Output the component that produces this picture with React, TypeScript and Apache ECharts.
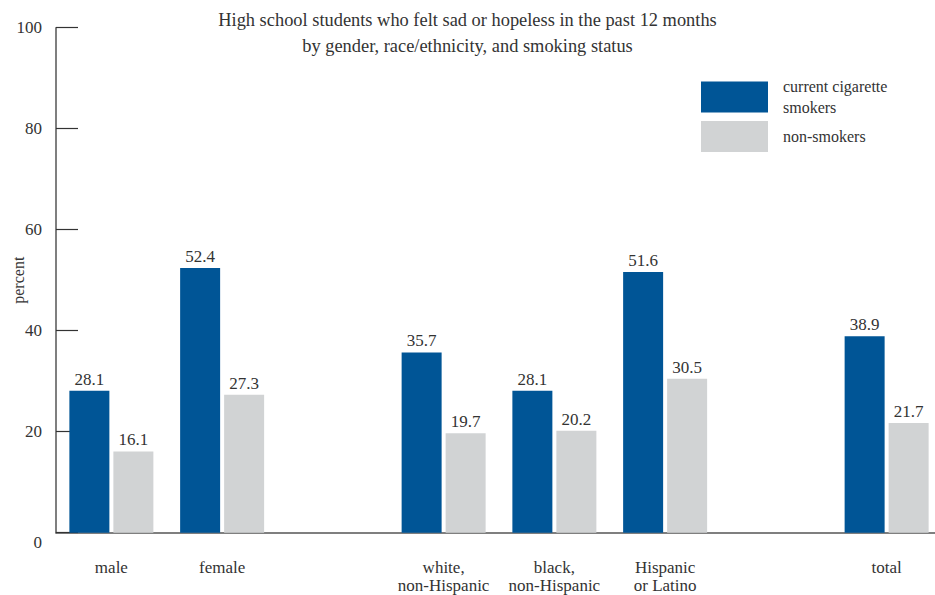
import React, { useEffect, useRef } from "react";
import * as echarts from "echarts";

const categories = [
  "male",
  "female",
  "",
  "white,\nnon-Hispanic",
  "black,\nnon-Hispanic",
  "Hispanic\nor Latino",
  "",
  "total",
];
const smokers = [28.1, 52.4, null, 35.7, 28.1, 51.6, null, 38.9];
const nonSmokers = [16.1, 27.3, null, 19.7, 20.2, 30.5, null, 21.7];
const yTicks = [0, 20, 40, 60, 80, 100];

const FONT = "Liberation Serif";
const TEXT = "#333333";
const BLUE = "#005596";
const GREY = "#d1d3d4";

export default function App() {
  const ref = useRef<HTMLDivElement>(null);
  useEffect(() => {
    if (!ref.current) return;
    const chart = echarts.init(ref.current, undefined, { renderer: "svg" });
    const labelStyle = {
      show: true,
      position: "top" as const,
      distance: 3,
      color: TEXT,
      fontFamily: FONT,
      fontSize: 17,
    };
    chart.setOption({
      animation: false,
      backgroundColor: "#ffffff",
      textStyle: { fontFamily: FONT, color: TEXT },
      title: {
        text: "High school students who felt sad or hopeless in the past 12 months\nby gender, race/ethnicity, and smoking status",
        left: "center",
        top: 7,
        padding: 0,
        textStyle: {
          fontFamily: FONT,
          fontSize: 18.4,
          fontWeight: "normal",
          color: TEXT,
          lineHeight: 26,
        },
      },
      legend: [
        {
          data: ["current cigarette smokers"],
          left: 701,
          top: 76,
          padding: 0,
          itemWidth: 67,
          itemHeight: 31,
          icon: "rect",
          selectedMode: false,
          formatter: () => "current cigarette\nsmokers",
          textStyle: {
            fontFamily: FONT,
            fontSize: 16,
            color: TEXT,
            lineHeight: 21,
            padding: [0, 0, 0, 10],
          },
        },
        {
          data: ["non-smokers"],
          left: 701,
          top: 121,
          padding: 0,
          itemWidth: 67,
          itemHeight: 31,
          icon: "rect",
          selectedMode: false,
          textStyle: {
            fontFamily: FONT,
            fontSize: 16,
            color: TEXT,
            padding: [0, 0, 0, 10],
          },
        },
      ],
      grid: {
        left: 56,
        right: -7,
        top: 27.7,
        bottom: 62.3,
        containLabel: false,
        outerBoundsMode: "none",
      },
      xAxis: {
        type: "category",
        data: categories,
        axisTick: { show: false },
        axisLine: { show: true, lineStyle: { color: "#555555", width: 1.5 } },
        axisLabel: {
          interval: 0,
          margin: 26,
          color: TEXT,
          fontFamily: FONT,
          fontSize: 17,
          lineHeight: 18,
          verticalAlign: "top",
        },
      },
      yAxis: {
        type: "value",
        min: yTicks[0],
        max: yTicks[yTicks.length - 1],
        interval: 20,
        name: "percent",
        nameLocation: "middle",
        nameRotate: 90,
        nameGap: 30,
        nameMoveOverlap: false,
        nameTextStyle: { fontFamily: FONT, fontSize: 16, color: TEXT },
        splitLine: { show: false },
        axisLine: { show: true, lineStyle: { color: "#555555", width: 1.5 } },
        axisTick: {
          show: true,
          inside: true,
          length: 22,
          lineStyle: { color: "#333333", width: 1.2 },
        },
        axisLabel: {
          margin: 14,
          color: TEXT,
          fontFamily: FONT,
          fontSize: 17,
          formatter: (v: number) => (v === 0 ? "{z|0}" : String(v)),
          rich: {
            z: {
              fontFamily: FONT,
              fontSize: 17,
              color: TEXT,
              padding: [20, 0, 0, 0],
            },
          },
        },
      },
      series: [
        {
          name: "current cigarette smokers",
          type: "bar",
          data: smokers,
          barWidth: 40,
          barGap: "10%",
          itemStyle: { color: BLUE },
          label: labelStyle,
        },
        {
          name: "non-smokers",
          type: "bar",
          data: nonSmokers,
          barWidth: 40,
          barGap: "10%",
          itemStyle: { color: GREY },
          label: labelStyle,
        },
      ],
    });
    return () => chart.dispose();
  }, []);
  return (
    <div
      ref={ref}
      style={{ position: "absolute", left: 0, top: 0, width: 935, height: 595 }}
    />
  );
}
